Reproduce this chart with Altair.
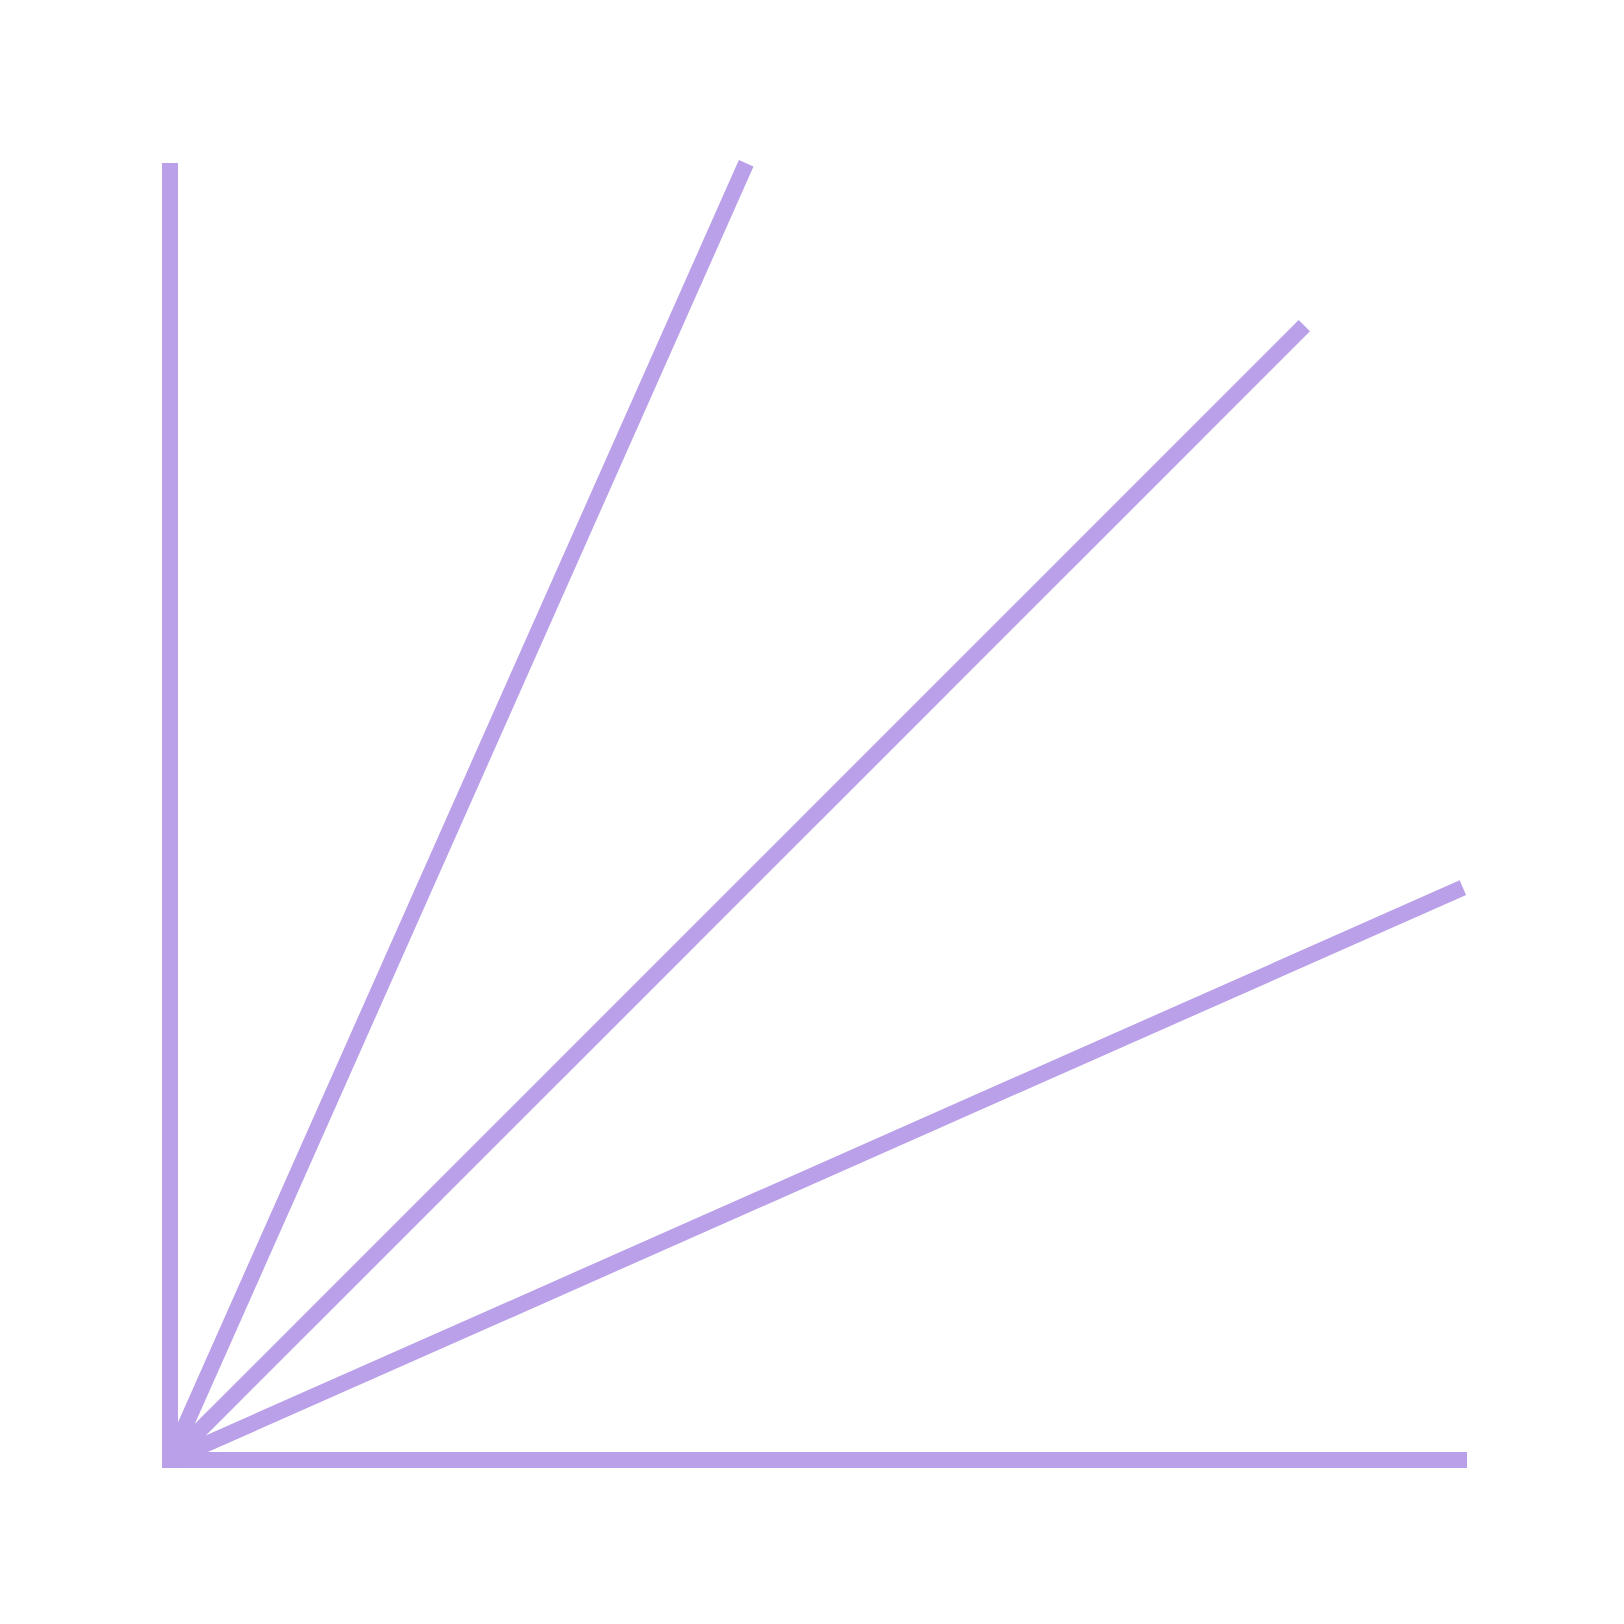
import altair as alt
import pandas as pd

ray_ids = ["r1", "r2", "r3", "r4", "r5"]
start_x = [0, 0, 0, 0, 0]
start_y = [0, 0, 0, 0, 0]
end_x = [0, 44.7, 88.0, 100.3, 100]
end_y = [100, 100.6, 88.0, 44.4, 0]

df = pd.DataFrame({"id": ray_ids, "x0": start_x, "y0": start_y, "x1": end_x, "y1": end_y})

xs = alt.Scale(domain=[0, 100], nice=False, zero=False)
ys = alt.Scale(domain=[0, 100], nice=False, zero=False)

enc = dict(
    x=alt.X("x0:Q", scale=xs, axis=None),
    y=alt.Y("y0:Q", scale=ys, axis=None),
    x2="x1:Q",
    y2="y1:Q",
)

base = alt.Chart(df)
edges = base.transform_filter(
    alt.FieldOneOfPredicate(field="id", oneOf=["r1", "r5"])
).mark_rule(color="#b9a0e9", strokeWidth=16, strokeCap="square").encode(**enc)
diagonals = base.transform_filter(
    alt.FieldOneOfPredicate(field="id", oneOf=["r2", "r3", "r4"])
).mark_rule(color="#b9a0e9", strokeWidth=16, strokeCap="butt").encode(**enc)

chart = alt.layer(edges, diagonals).properties(
    width=1289,
    height=1289,
    padding={"left": 150, "top": 147, "right": 20, "bottom": 20},
).configure_view(stroke=None)

chart.save("out.html", embed_options={"renderer": "svg", "actions": False})
